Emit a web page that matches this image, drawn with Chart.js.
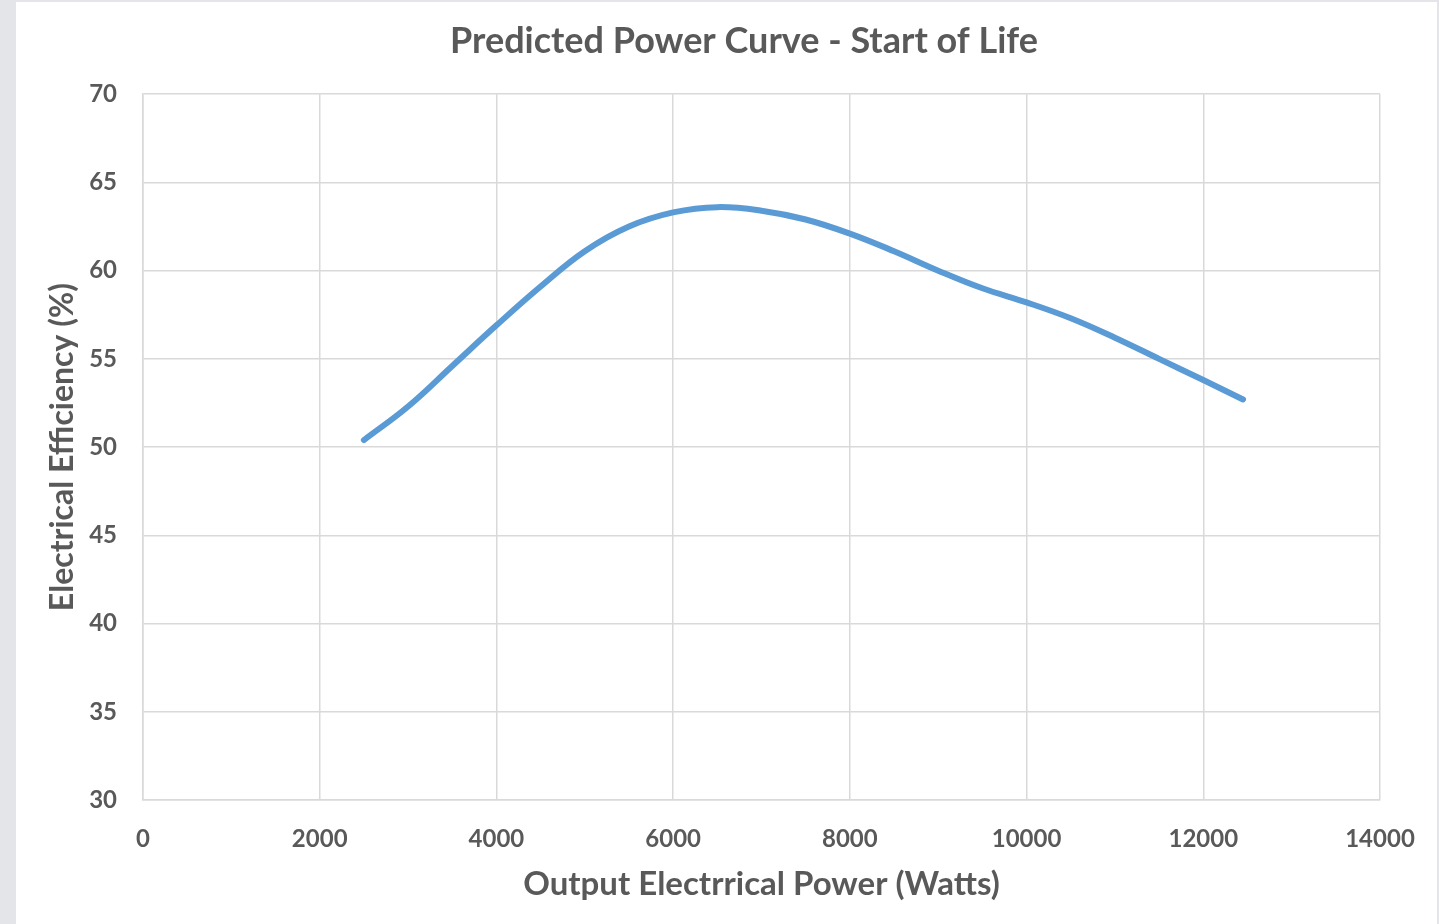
<!DOCTYPE html>
<html>
<head>
<meta charset="utf-8">
<script src="https://cdn.jsdelivr.net/npm/chart.js@4.4.0/dist/chart.umd.min.js"></script>
<style>
    html, body { margin: 0; padding: 0; }
    body { width: 1439px; height: 924px; background: #e3e5e8; overflow: hidden; position: relative; }
    .card { position: absolute; left: 16px; top: 2px; width: 1421px; height: 922px; background: #fff; }
    canvas { display: block; }
</style>
</head>
<body>
<div class="card"><canvas id="powerChart" width="1421" height="922"></canvas></div>
<script>
const powerWatts = [2500, 3000, 3500, 4000, 4500, 5000, 5500, 6000, 6500, 7000, 7500, 8000, 8500, 9000, 9500, 10000, 10500, 11000, 11500, 12000, 12450];
const efficiency = [50.4, 52.3, 54.6, 56.9, 59.1, 61.1, 62.5, 63.3, 63.6, 63.4, 62.9, 62.1, 61.1, 60.0, 59.0, 58.2, 57.3, 56.2, 55.0, 53.8, 52.7];

const textColor = '#595959';
const gridColor = '#d9d9d9';
const fontFamily = 'Lato, "Open Sans", sans-serif';

const ctx = document.getElementById('powerChart').getContext('2d');
new Chart(ctx, {
    type: 'line',
    data: {
        datasets: [{
            label: 'Start of Life',
            data: powerWatts.map((w, i) => ({ x: w, y: efficiency[i] })),
            borderColor: '#5b9bd5',
            borderWidth: 6,
            borderCapStyle: 'round',
            pointRadius: 0,
            tension: 0.4,
            fill: false
        }]
    },
    options: {
        responsive: false,
        animation: false,
        layout: { padding: { top: 0, right: 0, bottom: 0, left: 35 } },
        plugins: {
            legend: { display: false },
            tooltip: { enabled: false },
            title: {
                display: true,
                text: 'Predicted Power Curve - Start of Life',
                color: textColor,
                font: { family: fontFamily, size: 36, weight: 'bold' },
                padding: { top: 18, bottom: 31 }
            }
        },
        scales: {
            x: {
                type: 'linear',
                min: 0,
                max: 14000,
                grid: { color: gridColor, lineWidth: 1.5, drawTicks: false },
                border: { color: gridColor, width: 1.5 },
                ticks: {
                    stepSize: 2000,
                    padding: 25,
                    color: textColor,
                    font: { family: fontFamily, size: 24, weight: 'bold' },
                    maxRotation: 0,
                    callback: v => String(v)
                },
                title: {
                    display: true,
                    text: 'Output Electrrical Power (Watts)',
                    color: textColor,
                    font: { family: fontFamily, size: 33, weight: 'bold' },
                    padding: { top: 0, bottom: 20 }
                },
                afterFit: scale => {
                    scale.height = 124;
                    scale.paddingRight = 57;
                }
            },
            y: {
                min: 30,
                max: 70,
                grid: { color: gridColor, lineWidth: 1.5, drawTicks: false },
                border: { color: gridColor, width: 1.5 },
                ticks: {
                    stepSize: 5,
                    padding: 26,
                    color: textColor,
                    font: { family: fontFamily, size: 24, weight: 'bold' }
                },
                title: {
                    display: true,
                    text: 'Electrical Efficiency (%)',
                    color: textColor,
                    font: { family: fontFamily, size: 32, weight: 'bold', lineHeight: 0.7 },
                    padding: { top: 0, bottom: 0 }
                },
                afterFit: scale => { scale.width = 92; }
            }
        }
    }
});
</script>
</body>
</html>
